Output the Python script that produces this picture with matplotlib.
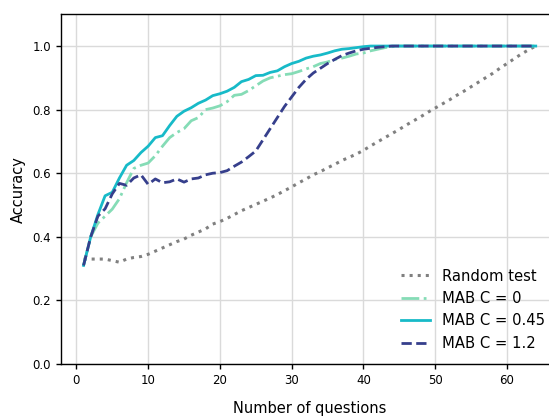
import numpy as np
import matplotlib
matplotlib.use('Agg')
import matplotlib.pyplot as plt

# number of questions asked
n_questions = np.arange(1, 65)

# accuracy curves
random_test = [0.33, 0.33, 0.33, 0.33, 0.325, 0.32, 0.33, 0.335, 0.338, 0.345,
               0.355, 0.365, 0.375, 0.385, 0.393, 0.405, 0.415, 0.425, 0.44, 0.448,
               0.458, 0.47, 0.482, 0.492, 0.502, 0.512, 0.522, 0.533, 0.545, 0.557,
               0.57, 0.582, 0.595, 0.605, 0.617, 0.628, 0.64, 0.65, 0.66, 0.672,
               0.686, 0.699, 0.712, 0.725, 0.738, 0.752, 0.765, 0.778, 0.792, 0.805,
               0.818, 0.831, 0.845, 0.858, 0.872, 0.886, 0.9, 0.914, 0.93, 0.945,
               0.96, 0.975, 0.988, 1.0]

mab_c0 = [0.31, 0.40, 0.443, 0.465, 0.487, 0.52, 0.57, 0.615, 0.625, 0.632,
          0.655, 0.685, 0.712, 0.728, 0.74, 0.765, 0.775, 0.80, 0.805, 0.812,
          0.825, 0.845, 0.848, 0.86, 0.875, 0.89, 0.90, 0.905, 0.91, 0.913,
          0.92, 0.928, 0.935, 0.945, 0.95, 0.958, 0.962, 0.968, 0.975, 0.978,
          0.985, 0.99, 0.995, 0.998] + [1.0] * 20

mab_c045 = [0.31, 0.40, 0.47, 0.529, 0.54, 0.585, 0.625, 0.64, 0.665, 0.685,
            0.712, 0.718, 0.75, 0.779, 0.795, 0.806, 0.82, 0.83, 0.844, 0.85,
            0.858, 0.87, 0.888, 0.895, 0.907, 0.908, 0.917, 0.922, 0.935, 0.945,
            0.952, 0.962, 0.968, 0.972, 0.978, 0.985, 0.99, 0.992, 0.995, 0.998] + [1.0] * 24

mab_c12 = [0.31, 0.40, 0.465, 0.488, 0.535, 0.568, 0.562, 0.585, 0.595, 0.565,
           0.582, 0.57, 0.573, 0.582, 0.572, 0.582, 0.585, 0.595, 0.60, 0.602,
           0.608, 0.622, 0.635, 0.652, 0.67, 0.705, 0.74, 0.775, 0.81, 0.84,
           0.87, 0.895, 0.915, 0.93, 0.945, 0.958, 0.97, 0.978, 0.985, 0.99,
           0.993, 0.996, 0.998] + [1.0] * 21

fig = plt.figure(figsize=(5.49, 4.19), dpi=100)
# axes run a little past the right edge, as in the reference
ax = fig.add_axes([0.111, 0.1313, 0.906, 0.8347])

ax.plot(n_questions, random_test, ':', color='#808080', lw=2.2, label='Random test')
ax.plot(n_questions, mab_c0, '-.', color='#85dcb6', lw=2, label='MAB C = 0')
ax.plot(n_questions, mab_c045, '-', color='#17bac8', lw=2, label='MAB C = 0.45')
ax.plot(n_questions, mab_c12, '--', color='#363f8c', lw=2, label='MAB C = 1.2')

ax.set_ylim(0, 1.1)
ax.set_xticks(range(0, 61, 10))
ax.set_yticks([0.0, 0.2, 0.4, 0.6, 0.8, 1.0])
ax.grid(True, color='#dadada', lw=1)
ax.set_axisbelow(True)
ax.tick_params(labelsize=8.5, length=3.5, width=1)
for s in ax.spines.values():
    s.set_linewidth(1)

ax.set_xlabel('Number of questions', fontsize=10.5, labelpad=10)
ax.set_ylabel('Accuracy', fontsize=10.5, labelpad=5)
ax.legend(loc='lower right', frameon=False, fontsize=10.6)

plt.savefig('out.png', dpi=100)
